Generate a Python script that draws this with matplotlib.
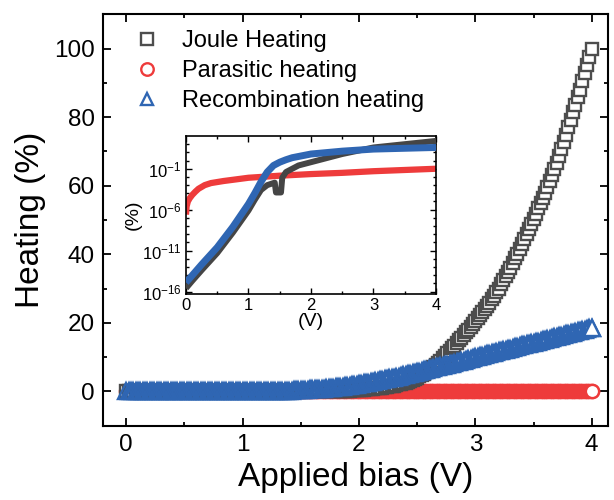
import numpy as np
import matplotlib
matplotlib.use("Agg")
from matplotlib import pyplot as plt

plt.rcParams['font.family'] = ['Liberation Sans', 'DejaVu Sans']
plt.rcParams['mathtext.fontset'] = 'custom'
plt.rcParams['mathtext.rm'] = 'Liberation Sans'
plt.rcParams['mathtext.it'] = 'Liberation Sans:italic'

# main panel, bias step 0.02 V (0 .. 4 V), 10 values per row = 0.2 V
bias = np.arange(201) * 0.02

joule = [
    0.00, 0.00, 0.00, 0.00, 0.00, 0.00, 0.00, 0.00, 0.00, 0.00,
    0.00, 0.00, 0.00, 0.00, 0.00, 0.00, 0.00, 0.00, 0.00, 0.00,
    0.00, 0.00, 0.00, 0.00, 0.00, 0.00, 0.00, 0.00, 0.00, 0.00,
    0.00, 0.00, 0.00, 0.00, 0.00, 0.00, 0.00, 0.00, 0.00, 0.00,
    0.00, 0.00, 0.00, 0.00, 0.00, 0.00, 0.00, 0.00, 0.00, 0.00,
    0.00, 0.00, 0.00, 0.00, 0.00, 0.00, 0.00, 0.00, 0.00, 0.00,
    0.00, 0.00, 0.00, 0.00, 0.00, 0.00, 0.00, 0.00, 0.00, 0.00,
    0.00, 0.00, 0.00, 0.00, 0.00, 0.00, 0.00, 0.01, 0.01, 0.02,
    0.02, 0.02, 0.03, 0.03, 0.04, 0.04, 0.05, 0.06, 0.07, 0.08,
    0.10, 0.12, 0.14, 0.16, 0.18, 0.20, 0.24, 0.28, 0.32, 0.36,
    0.40, 0.46, 0.52, 0.58, 0.64, 0.70, 0.78, 0.86, 0.94, 1.02,
    1.10, 1.22, 1.34, 1.46, 1.58, 1.70, 1.88, 2.06, 2.24, 2.42,
    2.60, 2.88, 3.16, 3.44, 3.72, 4.00, 4.40, 4.80, 5.20, 5.60,
    6.00, 6.60, 7.20, 7.80, 8.40, 9.00, 9.72, 10.44, 11.16, 11.88,
    12.60, 13.36, 14.12, 14.88, 15.64, 16.40, 17.20, 18.00, 18.80, 19.60,
    20.40, 21.28, 22.16, 23.04, 23.92, 24.80, 25.84, 26.88, 27.92, 28.96,
    30.00, 31.20, 32.40, 33.60, 34.80, 36.00, 37.40, 38.80, 40.20, 41.60,
    43.00, 44.46, 45.92, 47.38, 48.84, 50.30, 51.84, 53.38, 54.92, 56.46,
    58.00, 59.70, 61.40, 63.10, 64.80, 66.50, 68.60, 70.70, 72.80, 74.90,
    77.00, 79.20, 81.40, 83.60, 85.80, 88.00, 90.40, 92.80, 95.20, 97.60,
    100.00,
]

parasitic = [
    0.000, 0.000, 0.000, 0.000, 0.001, 0.001, 0.001, 0.001, 0.001, 0.001,
    0.001, 0.001, 0.002, 0.002, 0.002, 0.002, 0.002, 0.002, 0.002, 0.002,
    0.002, 0.003, 0.003, 0.003, 0.003, 0.003, 0.003, 0.003, 0.004, 0.004,
    0.004, 0.004, 0.004, 0.005, 0.005, 0.005, 0.005, 0.006, 0.006, 0.006,
    0.006, 0.007, 0.007, 0.007, 0.007, 0.008, 0.008, 0.008, 0.008, 0.009,
    0.009, 0.009, 0.009, 0.010, 0.010, 0.010, 0.010, 0.011, 0.011, 0.011,
    0.011, 0.012, 0.012, 0.012, 0.012, 0.013, 0.013, 0.013, 0.013, 0.014,
    0.014, 0.014, 0.014, 0.015, 0.015, 0.015, 0.015, 0.016, 0.016, 0.016,
    0.016, 0.017, 0.017, 0.017, 0.018, 0.018, 0.018, 0.019, 0.019, 0.019,
    0.020, 0.020, 0.020, 0.021, 0.021, 0.021, 0.022, 0.022, 0.022, 0.023,
    0.023, 0.024, 0.024, 0.025, 0.025, 0.026, 0.026, 0.027, 0.027, 0.028,
    0.028, 0.029, 0.029, 0.030, 0.031, 0.031, 0.032, 0.032, 0.033, 0.034,
    0.034, 0.035, 0.036, 0.036, 0.037, 0.038, 0.038, 0.039, 0.040, 0.041,
    0.041, 0.042, 0.043, 0.044, 0.045, 0.045, 0.046, 0.047, 0.048, 0.049,
    0.050, 0.051, 0.052, 0.053, 0.054, 0.055, 0.056, 0.057, 0.058, 0.059,
    0.060, 0.061, 0.062, 0.063, 0.064, 0.065, 0.066, 0.067, 0.068, 0.069,
    0.070, 0.071, 0.073, 0.074, 0.075, 0.076, 0.078, 0.079, 0.080, 0.082,
    0.083, 0.084, 0.086, 0.087, 0.088, 0.090, 0.091, 0.093, 0.094, 0.096,
    0.097, 0.099, 0.100, 0.102, 0.103, 0.105, 0.107, 0.108, 0.110, 0.112,
    0.113, 0.115, 0.117, 0.118, 0.120, 0.122, 0.124, 0.126, 0.128, 0.130,
    0.132,
]

recomb = [
    0.00, 0.00, 0.00, 0.00, 0.00, 0.00, 0.00, 0.00, 0.00, 0.00,
    0.00, 0.00, 0.00, 0.00, 0.00, 0.00, 0.00, 0.00, 0.00, 0.00,
    0.00, 0.00, 0.00, 0.00, 0.00, 0.00, 0.00, 0.00, 0.00, 0.00,
    0.00, 0.00, 0.00, 0.00, 0.00, 0.00, 0.00, 0.00, 0.00, 0.00,
    0.00, 0.00, 0.00, 0.00, 0.00, 0.00, 0.00, 0.00, 0.00, 0.00,
    0.00, 0.00, 0.01, 0.01, 0.01, 0.02, 0.02, 0.03, 0.03, 0.04,
    0.05, 0.06, 0.07, 0.08, 0.09, 0.10, 0.12, 0.14, 0.16, 0.18,
    0.20, 0.24, 0.28, 0.32, 0.36, 0.40, 0.44, 0.48, 0.52, 0.56,
    0.60, 0.65, 0.70, 0.75, 0.80, 0.85, 0.91, 0.97, 1.03, 1.09,
    1.15, 1.24, 1.33, 1.42, 1.51, 1.60, 1.70, 1.80, 1.90, 2.00,
    2.10, 2.22, 2.34, 2.46, 2.58, 2.70, 2.83, 2.96, 3.09, 3.22,
    3.35, 3.49, 3.63, 3.77, 3.91, 4.05, 4.20, 4.35, 4.50, 4.65,
    4.80, 4.96, 5.12, 5.28, 5.44, 5.60, 5.78, 5.96, 6.14, 6.32,
    6.50, 6.66, 6.82, 6.98, 7.14, 7.30, 7.46, 7.62, 7.78, 7.94,
    8.10, 8.28, 8.46, 8.64, 8.82, 9.00, 9.18, 9.36, 9.54, 9.72,
    9.90, 10.08, 10.26, 10.44, 10.62, 10.80, 10.98, 11.16, 11.34, 11.52,
    11.70, 11.86, 12.02, 12.18, 12.34, 12.50, 12.68, 12.86, 13.04, 13.22,
    13.40, 13.56, 13.72, 13.88, 14.04, 14.20, 14.38, 14.56, 14.74, 14.92,
    15.10, 15.26, 15.42, 15.58, 15.74, 15.90, 16.08, 16.26, 16.44, 16.62,
    16.80, 16.98, 17.16, 17.34, 17.52, 17.70, 17.88, 18.06, 18.24, 18.42,
    18.60,
]

# inset (log scale), values given as log10 of heating (%)
ins_joule_v = [0.0, 0.1, 0.25, 0.5, 0.75, 1.0, 1.1, 1.2, 1.3, 1.42, 1.44, 1.52, 1.54,
               1.6, 1.7, 1.8, 2.0, 2.25, 2.5, 2.75, 3.0, 3.5, 4.0]
ins_joule_log10 = [-15.6, -14.7, -13.4, -11.3, -8.8, -6.1, -4.8, -3.6, -3.0, -2.7, -3.9, -3.9, -2.1,
                   -1.4, -1.0, -0.6, -0.2, 0.3, 0.8, 1.2, 1.6, 2.0, 2.4]

ins_para_v = [0.0, 0.01, 0.03, 0.06, 0.1, 0.15, 0.2, 0.3, 0.4, 0.6, 0.8, 1.0,
              1.5, 2.0, 2.5, 3.0, 3.5, 4.0]
ins_para_log10 = [-6.6, -5.6, -5.0, -4.6, -4.2, -3.8, -3.45, -3.0, -2.75, -2.5, -2.3, -2.1,
                  -1.85, -1.65, -1.5, -1.3, -1.15, -1.0]

ins_rec_v = [0.0, 0.25, 0.5, 0.75, 1.0, 1.1, 1.2, 1.3, 1.4, 1.5, 1.6, 1.7, 1.8,
             2.0, 2.5, 3.0, 3.5, 4.0]
ins_rec_log10 = [-14.9, -12.7, -10.6, -8.1, -5.3, -4.0, -2.6, -1.4, -0.6, -0.2, 0.1, 0.35, 0.5,
                 0.8, 1.15, 1.4, 1.5, 1.6]

c_gray = '#4d4d4d'
c_red = '#ee3b3b'
c_blue = '#2f66b3'

fig = plt.figure(figsize=(6.14, 5.0), dpi=100)
ax = fig.add_axes([0.1678, 0.1486, 0.8224, 0.8228])

# dense open symbols; red / blue drawn with see-through faces so the
# overlapping outlines merge into solid bands, last symbol kept white inside
ax.plot(bias, parasitic, 'o', ms=9.5, mew=1.7, mec=c_red, mfc='none', zorder=2,
        label='Parasitic heating')
ax.plot(bias[-1:], parasitic[-1:], 'o', ms=9.5, mew=1.7, mec=c_red, mfc='white', zorder=2)
ax.plot(bias, joule, 's', ms=8.5, mew=1.7, mec=c_gray, mfc='white', zorder=3,
        label='Joule Heating')
ax.plot(bias, recomb, '^', ms=11, mew=1.7, mec=c_blue, mfc='none', zorder=4,
        label='Recombination heating')
ax.plot(bias[-1:], recomb[-1:], '^', ms=11, mew=1.7, mec=c_blue, mfc='white', zorder=4)

ax.set_xlim(-0.2, 4.14)
ax.set_ylim(-10, 110)
ax.set_xticks([0, 1, 2, 3, 4])
ax.set_xticks([0.5, 1.5, 2.5, 3.5], minor=True)
ax.set_yticks([0, 20, 40, 60, 80, 100])
ax.set_yticks([-10, 10, 30, 50, 70, 90, 110], minor=True)
ax.tick_params(which='both', direction='in', top=True, right=True, width=1.3,
               labelsize=17.5, pad=6)
ax.tick_params(which='major', length=6)
ax.tick_params(which='minor', length=3)
for s in ax.spines.values():
    s.set_linewidth(1.5)
ax.set_xlabel('Applied bias (V)', fontsize=24, labelpad=4)
ax.set_ylabel('Heating (%)', fontsize=24, labelpad=6)

h, l = ax.get_legend_handles_labels()
order = [1, 0, 2]
leg = ax.legend([h[i] for i in order], [l[i] for i in order], loc='upper left',
                bbox_to_anchor=(0.063, 0.962), frameon=False, fontsize=17,
                handlelength=1.0, handletextpad=1.0, labelspacing=0.35,
                borderaxespad=0, borderpad=0, numpoints=1)
for lh in leg.legend_handles:
    lh.set_markersize(9)

# inset
ins = fig.add_axes([0.3029, 0.412, 0.4072, 0.316])
ins.plot(ins_para_v, 10.0 ** np.array(ins_para_log10), color=c_red, lw=4.5,
         solid_capstyle='butt', zorder=2)
ins.plot(ins_joule_v, 10.0 ** np.array(ins_joule_log10), color='#454545', lw=4.3,
         solid_capstyle='butt', zorder=3)
ins.plot(ins_rec_v, 10.0 ** np.array(ins_rec_log10), color=c_blue, lw=5,
         solid_capstyle='butt', zorder=4)
ins.set_yscale('log')
ins.set_xlim(0, 4)
ins.set_ylim(10 ** -16.3, 10 ** 3)
ins.set_xticks([0, 1, 2, 3, 4])
ins.set_xticks([0.5, 1.5, 2.5, 3.5], minor=True)
ins.set_yticks([1e-16, 1e-11, 1e-6, 1e-1])
ins.set_yticklabels([r'$10^{-16}$', r'$10^{-11}$', r'$10^{-6}$', r'$10^{-1}$'])
ins.set_yticks([10.0 ** k for k in range(-16, 3)], minor=True)
ins.yaxis.set_minor_formatter(matplotlib.ticker.NullFormatter())
ins.tick_params(which='both', direction='in', top=True, right=True, width=1.0,
                labelsize=12, pad=3)
ins.tick_params(which='major', length=4)
ins.tick_params(which='minor', length=2)
for s in ins.spines.values():
    s.set_linewidth(1.2)
ins.set_xlabel('(V)', fontsize=14, labelpad=0)
ins.set_ylabel('(%)', fontsize=14, labelpad=0)

plt.savefig('out.png', dpi=100)
